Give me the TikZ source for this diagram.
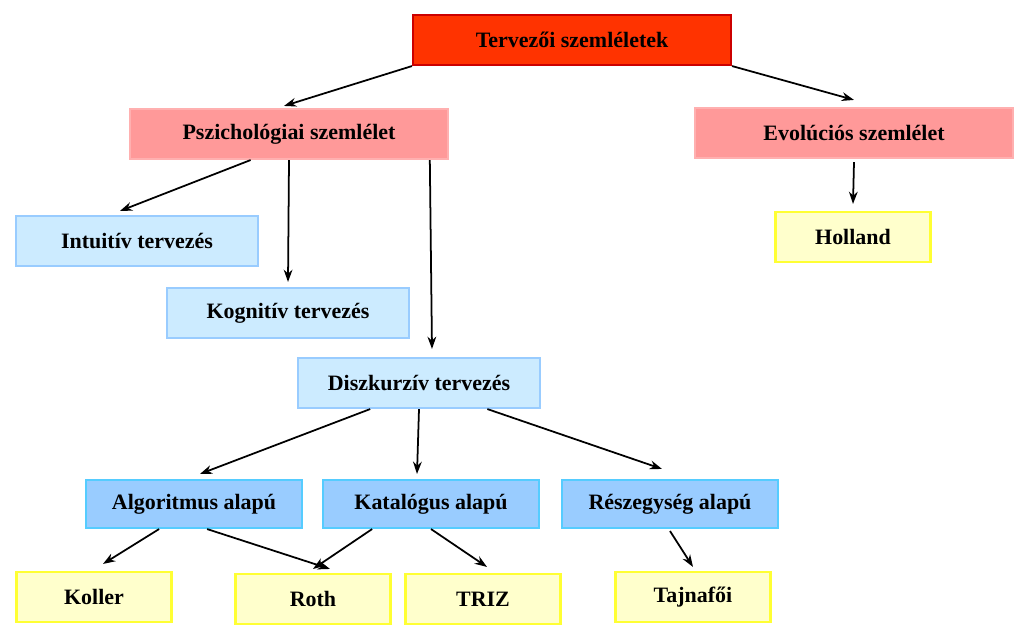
\documentclass[tikz,border=0pt]{standalone}
\usepackage{fontspec}
\setmainfont{Liberation Serif}
\usetikzlibrary{arrows.meta}
\usetikzlibrary{calc}

\definecolor{topfill}{HTML}{FF3300}
\definecolor{topline}{HTML}{CC0000}
\definecolor{pinkfill}{HTML}{FF9999}
\definecolor{pinkline}{HTML}{FFB0B0}
\definecolor{lbfill}{HTML}{CCEBFF}
\definecolor{lbline}{HTML}{99CCFF}
\definecolor{bfill}{HTML}{99CCFF}
\definecolor{bline}{HTML}{55CCFF}
\definecolor{yfill}{HTML}{FFFFCC}
\definecolor{yline}{HTML}{FFFF33}

\tikzset{
	box/.style={draw, line width=1.2pt, inner sep=0pt, font=\bfseries\fontsize{12.5}{14}\selectfont, minimum height=1cm},
	wide/.style={box, minimum width=6.36cm},
	mid/.style={box, minimum width=4.84cm},
	slim/.style={box, minimum width=4.32cm, minimum height=0.96cm},
	leaf/.style={box, minimum width=3.1cm, fill=yfill, draw=yline},
	arr/.style={-{Stealth[length=7pt,width=5pt]}, line width=1pt}
}

\begin{document}
\begin{tikzpicture}[x=0.02cm, y=-0.02cm]
	\useasboundingbox[fill=white] (0,0) rectangle (1024,638);
	
	\node[wide, fill=topfill, draw=topline] (top) at (572,40) {Tervezői szemléletek};
	\node[wide, fill=pinkfill, draw=pinkline] (psz) at (289,134) {Pszichológiai szemlélet};
	\node[wide, fill=pinkfill, draw=pinkline] (evo) at (854,133) {Evolúciós szemlélet};
	
	\node[mid, fill=lbfill, draw=lbline] (int) at (137,241) {Intuitív tervezés};
	\node[mid, fill=lbfill, draw=lbline] (kog) at (288,313) {Kognitív tervezés};
	\node[mid, fill=lbfill, draw=lbline] (dis) at (419,383) {Diszkurzív tervezés};
	\node[leaf] (hol) at (853,237) {Holland};
	
	\node[slim, fill=bfill, draw=bline] (alg) at (194,504) {Algoritmus alapú};
	\node[slim, fill=bfill, draw=bline] (kat) at (431,504) {Katalógus alapú};
	\node[slim, fill=bfill, draw=bline] (res) at (670,504) {Részegység alapú};
	
	\node[leaf] (kol) at (94,597) {Koller};
	\node[leaf] (rot) at (313,599) {Roth};
	\node[leaf] (tri) at (483,599) {TRIZ};
	\node[leaf] (taj) at (693,597) {Tajnafői};
	
	% connectors
	\draw[arr] (top.south west) -- ([xshift=-0.1cm,yshift=0.04cm]psz.north);
	\draw[arr] (top.south east) -- ([yshift=0.14cm]evo.north);
	\draw[arr] ($(psz.south west)!0.38!(psz.south east)$) -- ([xshift=-0.34cm,yshift=0.08cm]int.north);
	\draw[arr] (psz.south) -- ([yshift=0.1cm]kog.north);
	\draw[arr] ($(psz.south west)!0.94!(psz.south east)$) -- ([xshift=0.26cm,yshift=0.16cm]dis.north);
	\draw[arr] ([yshift=-0.06cm]evo.south) -- ([yshift=0.14cm]hol.north);
	\draw[arr] ($(dis.south west)!0.3!(dis.south east)$) -- ([xshift=0.12cm,yshift=0.1cm]alg.north);
	\draw[arr] (dis.south) -- ([xshift=-0.28cm,yshift=0.1cm]kat.north);
	\draw[arr] ($(dis.south west)!0.78!(dis.south east)$) -- ([xshift=-0.16cm,yshift=0.2cm]res.north);
	\draw[arr] ($(alg.south west)!0.34!(alg.south east)$) -- ([xshift=0.18cm,yshift=0.14cm]kol.north);
	\draw[arr] ($(alg.south west)!0.56!(alg.south east)$) -- ([xshift=0.34cm,yshift=0.08cm]rot.north);
	\draw[arr] ($(kat.south west)!0.23!(kat.south east)$) -- ([yshift=0.08cm]rot.north);
	\draw[arr] ($(kat.south west)!0.5!(kat.south east)$) -- ([xshift=0.08cm,yshift=0.12cm]tri.north);
	\draw[arr] ([yshift=-0.04cm]res.south) -- ([yshift=0.08cm]taj.north);
\end{tikzpicture}
\end{document}
